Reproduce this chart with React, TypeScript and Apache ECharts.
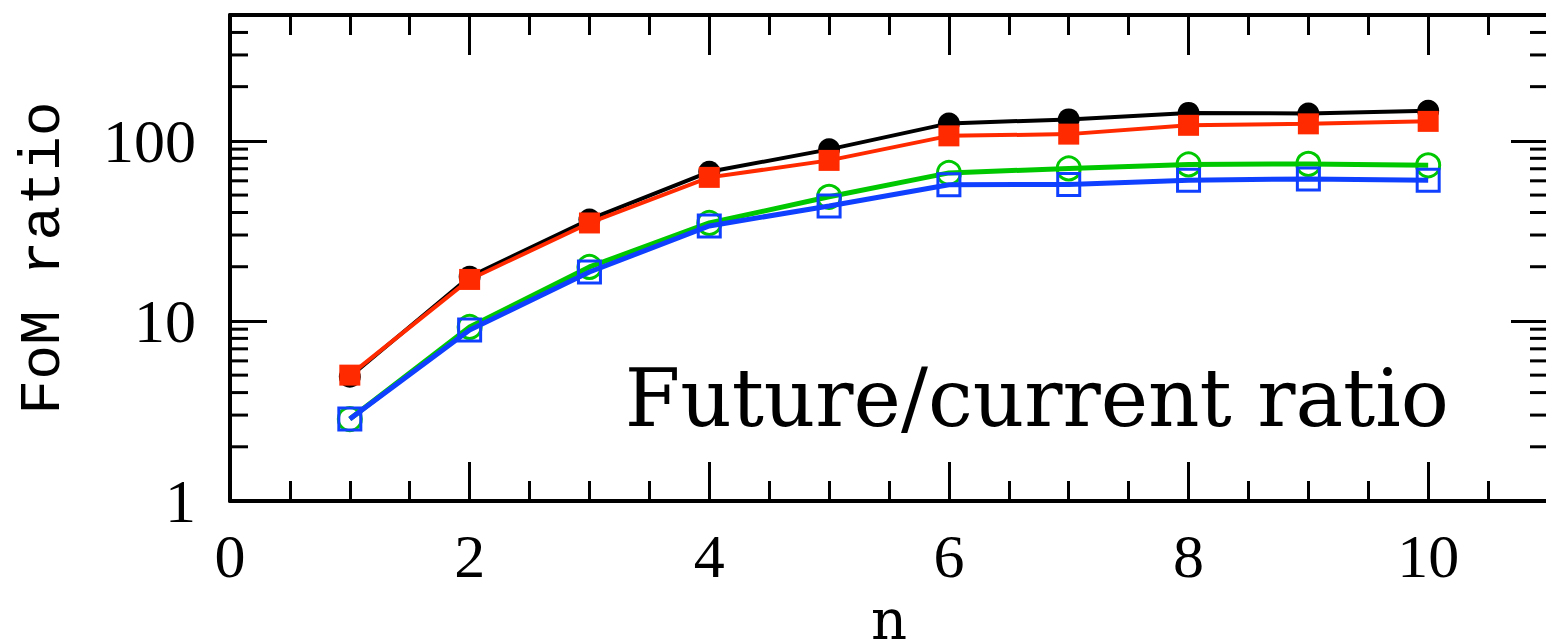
import React, { useEffect, useRef } from "react";
import * as echarts from "echarts";

const nValues = [1, 2, 3, 4, 5, 6, 7, 8, 9, 10];
const blackCircles = [4.9, 17.6, 36.6, 67.3, 89.7, 125, 131.6, 143, 142, 146.8];
const redSquares = [5.0, 17.0, 35.0, 62.7, 77.9, 106.6, 109, 122, 124.3, 128.3];
const greenCircles = [2.85, 9.26, 19.95, 35.0, 48.9, 66.4, 70.3, 74.0, 74.5, 73.1];
const blueSquares = [2.85, 8.91, 18.7, 33.7, 43.5, 57.0, 57.3, 60.4, 61.5, 60.4];
const yMinorTicks = [2, 3, 4, 5, 6, 7, 8, 9, 20, 30, 40, 50, 60, 70, 80, 90, 200, 300, 400];
const annotation = "Future/current ratio";
const xName = "n";
const yName = "FoM ratio";

const pairs = (ys: number[]) => nValues.map((n, i) => [n, ys[i]]);

export default function App() {
  const ref = useRef<HTMLDivElement>(null);
  useEffect(() => {
    if (!ref.current) return;
    const chart = echarts.init(ref.current, null, { renderer: "svg" });
    const serif = "Liberation Serif";
    const tickLine = { color: "#000", width: 3 };
    const axisLineStyle = { color: "#000", width: 4 };
    chart.setOption({
      animation: false,
      backgroundColor: "#fff",
      grid: { left: 230, top: 15, right: -2, bottom: 140, containLabel: false, outerBoundsMode: "none" },
      xAxis: [
        {
          type: "value", position: "bottom", min: 0, max: 11, interval: 2,
          axisLine: { show: true, onZero: false, lineStyle: axisLineStyle },
          axisTick: { show: true, inside: true, length: 39, lineStyle: tickLine },
          axisLabel: { show: true, color: "#000", fontFamily: serif, fontSize: 62, margin: 24, showMaxLabel: false },
          splitLine: { show: false },
          name: xName, nameLocation: "middle", nameGap: 84,
          nameTextStyle: { color: "#000", fontFamily: "DejaVu Serif", fontSize: 56, lineHeight: 56 },
        },
        {
          type: "value", position: "bottom", min: 0, max: 11, interval: 0.5,
          axisLine: { show: false },
          axisTick: { show: true, inside: true, length: 20, lineStyle: tickLine },
          axisLabel: { show: false }, splitLine: { show: false },
        },
        {
          type: "value", position: "top", min: 0, max: 11, interval: 2,
          axisLine: { show: true, onZero: false, lineStyle: axisLineStyle },
          axisTick: { show: true, inside: true, length: 40, lineStyle: tickLine },
          axisLabel: { show: false }, splitLine: { show: false },
        },
        {
          type: "value", position: "top", min: 0, max: 11, interval: 0.5,
          axisLine: { show: false },
          axisTick: { show: true, inside: true, length: 20, lineStyle: tickLine },
          axisLabel: { show: false }, splitLine: { show: false },
        },
      ],
      yAxis: [
        {
          type: "log", logBase: 10, position: "left", min: 1, max: 500,
          axisLine: { show: true, onZero: false, lineStyle: axisLineStyle },
          axisTick: { show: true, inside: true, length: 37, lineStyle: tickLine },
          axisLabel: { show: true, color: "#000", fontFamily: serif, fontSize: 62, margin: 34, showMaxLabel: false },
          splitLine: { show: false },
          name: yName, nameLocation: "middle", nameGap: 158,
          nameTextStyle: { color: "#000", fontFamily: "Liberation Mono", fontSize: 58 },
        },
        {
          type: "log", logBase: 10, position: "right", min: 1, max: 500,
          axisLine: { show: true, onZero: false, lineStyle: axisLineStyle },
          axisTick: { show: true, inside: true, length: 37, lineStyle: tickLine },
          axisLabel: { show: false }, splitLine: { show: false },
        },
      ],
      graphic: [
        {
          type: "text", x: 1449, y: 398,
          style: {
            text: annotation, fill: "#000",
            font: '80px "DejaVu Serif"', textAlign: "right", textVerticalAlign: "middle",
          },
        },
      ],
      series: [
        {
          type: "custom", xAxisIndex: 0, yAxisIndex: 0, silent: true, z: 1,
          data: yMinorTicks.map((v) => [0, v]),
          renderItem: (params: any, api: any) => {
            const v = api.value(1);
            const p = api.coord([0, v]);
            const q = api.coord([11, v]);
            const style = { stroke: "#000", lineWidth: 3 };
            return {
              type: "group",
              children: [
                { type: "line", shape: { x1: p[0], y1: p[1], x2: p[0] + 18, y2: p[1] }, style },
                { type: "line", shape: { x1: q[0] - 18, y1: q[1], x2: q[0], y2: q[1] }, style },
              ],
            };
          },
        },
        {
          type: "line", data: pairs(blackCircles), symbol: "circle", symbolSize: 22,
          itemStyle: { color: "#000" }, lineStyle: { color: "#000", width: 4 }, z: 2,
        },
        {
          type: "line", data: pairs(redSquares), symbol: "rect", symbolSize: 21,
          itemStyle: { color: "#ff2a00" }, lineStyle: { color: "#ff2a00", width: 4 }, z: 3,
        },
        {
          type: "line", data: pairs(greenCircles), symbol: "circle", symbolSize: 23,
          itemStyle: { color: "rgba(0,0,0,0)", borderColor: "#00c800", borderWidth: 3 },
          lineStyle: { color: "#00c800", width: 5 }, z: 4,
        },
        {
          type: "line", data: pairs(blueSquares), symbol: "rect", symbolSize: 22,
          itemStyle: { color: "rgba(0,0,0,0)", borderColor: "#1040ff", borderWidth: 3 },
          lineStyle: { color: "#1040ff", width: 5 }, z: 5,
        },
      ],
    });
    return () => chart.dispose();
  }, []);
  return (
    <div
      ref={ref}
      style={{ position: "absolute", left: 0, top: 0, width: 1546, height: 641, background: "#fff" }}
    />
  );
}
